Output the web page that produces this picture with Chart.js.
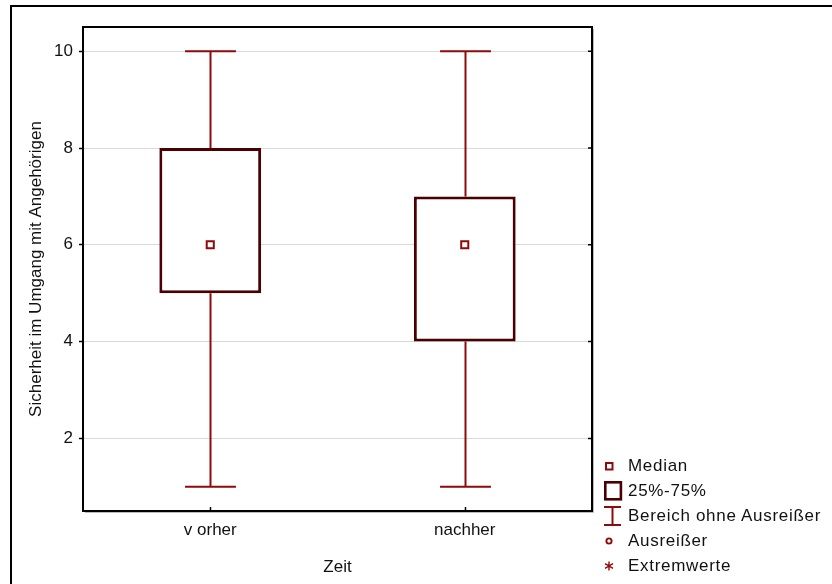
<!DOCTYPE html>
<html>
<head>
<meta charset="utf-8">
<script src="https://cdn.jsdelivr.net/npm/chart.js@4.4.1/dist/chart.umd.min.js"></script>
<style>
  html, body { margin: 0; padding: 0; background: #fff; }
  body { width: 832px; height: 584px; position: relative; overflow: hidden; font-family: "Liberation Sans", Arial, sans-serif; }
  #frame { position: absolute; left: 10px; top: 5px; width: 840px; height: 600px; border: 2px solid #000; box-sizing: border-box; }
  #wrap { position: absolute; left: 0; top: 0; width: 832px; height: 584px; }
  .leg { position: absolute; left: 600px; height: 22px; line-height: 22px; font-size: 17px; color: #111; white-space: nowrap; letter-spacing: 0.7px; }
  .leg svg { position: absolute; left: 0; top: 0; }
  .leg span { position: absolute; left: 28px; top: 0; }
</style>
</head>
<body>
<div id="frame"></div>
<div id="wrap"><canvas id="chart" width="832" height="584"></canvas></div>

<div class="leg" style="top:455px">
  <svg width="26" height="22"><rect x="6" y="8" width="6.5" height="6.5" fill="#fff" stroke="#8f0a0a" stroke-width="2"/></svg>
  <span>Median</span>
</div>
<div class="leg" style="top:480px">
  <svg width="26" height="22"><rect x="5.3" y="2.3" width="15.6" height="17" fill="#fff" stroke="#4a0000" stroke-width="2.6"/></svg>
  <span>25%-75%</span>
</div>
<div class="leg" style="top:505px">
  <svg width="26" height="22"><path d="M4 2 H21 M12.5 2 V20 M4 20 H21" fill="none" stroke="#8f0a0a" stroke-width="2"/></svg>
  <span>Bereich ohne Ausreißer</span>
</div>
<div class="leg" style="top:530px">
  <svg width="26" height="22"><circle cx="9" cy="11" r="2.6" fill="#fff" stroke="#8f0a0a" stroke-width="1.9"/></svg>
  <span>Ausreißer</span>
</div>
<div class="leg" style="top:555px">
  <svg width="26" height="22"><path d="M9 6.5 V15.5 M5 8.7 L13 13.3 M5 13.3 L13 8.7" fill="none" stroke="#8f0a0a" stroke-width="1.4"/></svg>
  <span>Extremwerte</span>
</div>

<script>
const categories = ['v orher', 'nachher'];
const whiskerLow = [1, 1];
const q1 = [5, 4];
const medians = [6, 6];
const q3 = [8, 7];
const whiskerHigh = [10, 10];
const yTicks = [2, 4, 6, 8, 10];

const WHISKER = '#8f0a0a';
const BOX = '#4a0000';
const FONT = { family: '"Liberation Sans", Arial, sans-serif', size: 17 };

// whiskers + frame, drawn from the scales
const boxExtras = {
  id: 'boxExtras',
  beforeDatasetsDraw(chart) {
    const { ctx, scales: { y } } = chart;
    const meta = chart.getDatasetMeta(1);
    ctx.save();
    ctx.strokeStyle = WHISKER;
    ctx.lineWidth = 2;
    meta.data.forEach((bar, i) => {
      const cx = Math.round(bar.x) + 0.5, half = bar.width / 4;
      const yLo = y.getPixelForValue(whiskerLow[i]), yHi = y.getPixelForValue(whiskerHigh[i]);
      const yQ1 = y.getPixelForValue(q1[i]), yQ3 = y.getPixelForValue(q3[i]);
      ctx.beginPath();
      ctx.moveTo(cx, yHi); ctx.lineTo(cx, yQ3);
      ctx.moveTo(cx, yQ1); ctx.lineTo(cx, yLo);
      ctx.moveTo(cx - half, yHi); ctx.lineTo(cx + half, yHi);
      ctx.moveTo(cx - half, yLo); ctx.lineTo(cx + half, yLo);
      ctx.stroke();
    });
    ctx.restore();
  },
  afterDraw(chart) {
    const { ctx, chartArea: a, scales: { x, y } } = chart;
    ctx.save();
    // faint shadow on the right edge, like the original
    ctx.strokeStyle = '#bbb';
    ctx.lineWidth = 1;
    ctx.beginPath();
    ctx.moveTo(a.right + 1.5, a.top + 2); ctx.lineTo(a.right + 1.5, a.bottom + 1.5); ctx.lineTo(a.left + 2, a.bottom + 1.5);
    ctx.stroke();
    ctx.strokeStyle = '#000';
    ctx.lineWidth = 2;
    ctx.strokeRect(a.left, a.top, a.right - a.left, a.bottom - a.top);
    ctx.lineWidth = 1.5;
    ctx.beginPath();
    categories.forEach((c, i) => {
      const px = Math.round(x.getPixelForValue(i)) + 0.5;
      ctx.moveTo(px, a.bottom); ctx.lineTo(px, a.bottom - 4);
    });
    yTicks.forEach(v => {
      const py = y.getPixelForValue(v);
      ctx.moveTo(a.right, py); ctx.lineTo(a.right - 4, py);
    });
    ctx.stroke();
    ctx.restore();
  }
};

new Chart(document.getElementById('chart'), {
  data: {
    labels: categories,
    datasets: [
      {
        type: 'line', data: medians, showLine: false, order: 0,
        pointStyle: 'rect', pointRadius: 5, pointBorderWidth: 2,
        pointBorderColor: WHISKER, pointBackgroundColor: '#fff'
      },
      {
        type: 'bar', data: q1.map((v, i) => [v, q3[i]]), order: 1,
        backgroundColor: '#fff', borderColor: BOX, borderWidth: 3, borderSkipped: false,
        barPercentage: 0.4, categoryPercentage: 1
      }
    ]
  },
  options: {
    responsive: false,
    animation: false,
    events: [],
    layout: { padding: { left: 0, top: 27, right: 240, bottom: 0 } },
    plugins: { legend: { display: false }, tooltip: { enabled: false } },
    scales: {
      x: {
        type: 'category', offset: true,
        grid: { display: false, drawTicks: false },
        border: { display: true, color: '#000', width: 2 },
        ticks: { color: '#111', font: FONT, padding: 9 },
        title: { display: true, text: 'Zeit', color: '#111', font: FONT, padding: { top: 0, bottom: 6 } },
        afterFit(s) { s.height = 73; }
      },
      y: {
        min: 0.5, max: 10.5,
        afterBuildTicks(s) { s.ticks = yTicks.map(v => ({ value: v })); },
        grid: { color: '#d9d9d9', lineWidth: 1, tickColor: '#000', tickLength: 4, tickWidth: 1.5 },
        border: { display: true, color: '#000', width: 2 },
        ticks: { color: '#111', font: FONT, padding: 6 },
        title: { display: true, text: 'Sicherheit im Umgang mit Angehörigen', color: '#111', font: FONT, padding: { top: 26, bottom: 0 } },
        afterFit(s) { s.width = 83; }
      }
    }
  },
  plugins: [boxExtras]
});
</script>
</body>
</html>
